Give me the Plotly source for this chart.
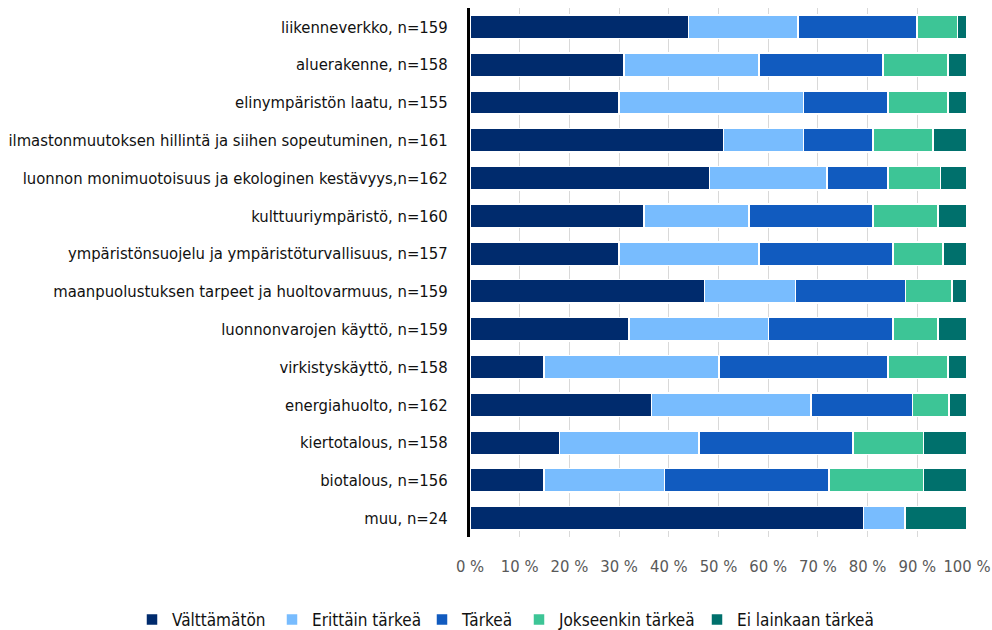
import plotly.graph_objects as go

# Categories, top to bottom
categories = [
    "liikenneverkko, n=159",
    "aluerakenne, n=158",
    "elinympäristön laatu, n=155",
    "ilmastonmuutoksen hillintä ja siihen sopeutuminen, n=161",
    "luonnon monimuotoisuus ja ekologinen kestävyys,n=162",
    "kulttuuriympäristö, n=160",
    "ympäristönsuojelu ja ympäristöturvallisuus, n=157",
    "maanpuolustuksen tarpeet ja huoltovarmuus, n=159",
    "luonnonvarojen käyttö, n=159",
    "virkistyskäyttö, n=158",
    "energiahuolto, n=162",
    "kiertotalous, n=158",
    "biotalous, n=156",
    "muu, n=24",
]

# Share of answers (%) per category
valttamaton = [44.0, 31.0, 30.0, 51.0, 48.2, 35.0, 30.0, 47.2, 32.0, 14.9, 36.5, 18.0, 14.9, 79.2]
erittain_tarkea = [22.0, 27.1, 37.1, 16.1, 23.6, 21.1, 28.1, 18.3, 28.1, 35.2, 32.1, 28.1, 24.2, 8.3]
tarkea = [23.9, 25.0, 17.0, 14.0, 12.3, 25.0, 27.0, 22.1, 25.0, 34.0, 20.4, 31.0, 33.1, 0.0]
jokseenkin_tarkea = [8.2, 13.1, 12.1, 12.1, 10.6, 13.1, 10.1, 9.4, 9.1, 12.1, 7.4, 14.1, 19.0, 0.0]
ei_lainkaan = [1.9, 3.8, 3.8, 6.8, 5.3, 5.8, 4.8, 3.0, 5.8, 3.8, 3.6, 8.8, 8.8, 12.5]

series_names = ["Välttämätön", "Erittäin tärkeä", "Tärkeä", "Jokseenkin tärkeä", "Ei lainkaan tärkeä"]
series_values = [valttamaton, erittain_tarkea, tarkea, jokseenkin_tarkea, ei_lainkaan]
series_colors = ["#002b6d", "#78bcfe", "#115bbf", "#3dc596", "#00706c"]

tick_values = [0, 10, 20, 30, 40, 50, 60, 70, 80, 90, 100]
tick_labels = ["0 %", "10 %", "20 %", "30 %", "40 %", "50 %", "60 %", "70 %", "80 %", "90 %", "100 %"]

FONT = "DejaVu Sans Condensed"

# Plot-area geometry in pixels (used to place the legend row below the axis)
W, H = 992, 630
M_L, M_R, M_T, M_B = 470, 25, 8, 93
PLOT_W = W - M_L - M_R
PLOT_H = H - M_T - M_B

# Left edge (px) of each legend entry's text, and the legend row's centre line
legend_text_x = [172, 312, 462, 559, 737]
legend_center_y = 620

legend_ids = ["legend", "legend2", "legend3", "legend4", "legend5"]

fig = go.Figure()
for name, vals, color, lid in zip(series_names, series_values, series_colors, legend_ids):
    fig.add_trace(go.Bar(
        y=categories,
        x=vals,
        name=name,
        orientation="h",
        marker=dict(color=color, line=dict(color="white", width=1.5)),
        hoverinfo="x+y+name",
        legend=lid,
    ))

legend_layout = {}
for lid, tx in zip(legend_ids, legend_text_x):
    legend_layout[lid] = dict(
        orientation="h",
        xref="paper",
        yref="paper",
        x=(tx - 40 - M_L) / PLOT_W,
        xanchor="left",
        y=(H - M_B - legend_center_y) / PLOT_H,
        yanchor="middle",
        font=dict(family=FONT, size=17, color="#111111"),
        itemwidth=30,
        bgcolor="rgba(0,0,0,0)",
        borderwidth=0,
    )

fig.update_layout(
    barmode="stack",
    bargap=0.38,
    width=W,
    height=H,
    margin=dict(l=M_L, r=M_R, t=M_T, b=M_B, autoexpand=False),
    paper_bgcolor="white",
    plot_bgcolor="white",
    font=dict(family=FONT, size=16.5, color="#111111"),
    showlegend=True,
    xaxis=dict(
        range=[0, 100],
        tickvals=tick_values,
        ticktext=tick_labels,
        showgrid=True,
        gridcolor="#d9d9d9",
        gridwidth=1,
        zeroline=False,
        showline=False,
        ticks="",
        ticklabelstandoff=17,
        tickfont=dict(family=FONT, size=16.5, color="#595959"),
        automargin=False,
        fixedrange=True,
    ),
    yaxis=dict(
        autorange="reversed",
        categoryorder="array",
        categoryarray=categories,
        showline=True,
        linecolor="black",
        linewidth=3,
        showgrid=False,
        ticks="",
        ticklabelstandoff=16,
        tickfont=dict(family=FONT, size=16.5, color="#111111"),
        automargin=False,
        fixedrange=True,
    ),
    **legend_layout,
)

fig.write_html("out.html")
